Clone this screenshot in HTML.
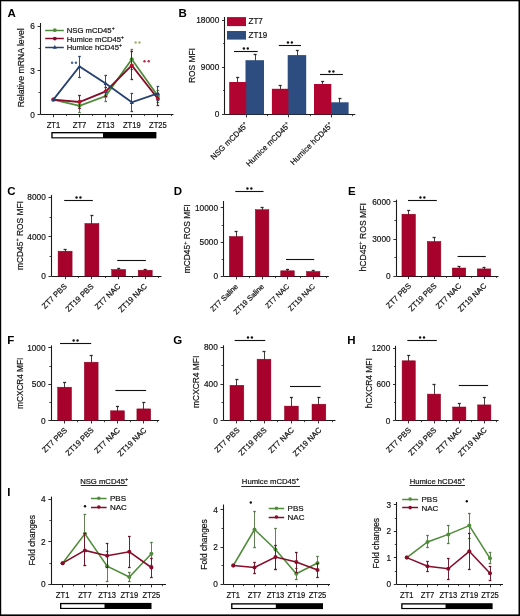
<!DOCTYPE html>
<html><head><meta charset="utf-8"><style>
html,body{margin:0;padding:0;background:#fff;}
body{width:520px;height:616px;overflow:hidden;}
svg{display:block;will-change:transform;}
#w{width:520px;height:616px;}
text{font-family:"Liberation Sans", sans-serif;}
</style></head><body><div id="w">
<svg width="520" height="616" viewBox="0 0 520 616" font-family='"Liberation Sans", sans-serif'><rect x="0" y="0" width="520" height="616" fill="#fff"/><text x="7.6" y="17.3" font-size="11.5" text-anchor="start" font-weight="bold" fill="#000">A</text><text x="178.6" y="16.9" font-size="11.5" text-anchor="start" font-weight="bold" fill="#000">B</text><text x="7.3" y="194.5" font-size="11.5" text-anchor="start" font-weight="bold" fill="#000">C</text><text x="173.8" y="194.5" font-size="11.5" text-anchor="start" font-weight="bold" fill="#000">D</text><text x="348" y="194.5" font-size="11.5" text-anchor="start" font-weight="bold" fill="#000">E</text><text x="7.3" y="344.3" font-size="11.5" text-anchor="start" font-weight="bold" fill="#000">F</text><text x="173.3" y="344.3" font-size="11.5" text-anchor="start" font-weight="bold" fill="#000">G</text><text x="347.3" y="344.3" font-size="11.5" text-anchor="start" font-weight="bold" fill="#000">H</text><text x="7.3" y="496.2" font-size="11.5" text-anchor="start" font-weight="bold" fill="#000">I</text><line x1="40.5" y1="23.0" x2="40.5" y2="114.3" stroke="#1a1a1a" stroke-width="1.1"/><line x1="37.5" y1="26.5" x2="40.3" y2="26.5" stroke="#1a1a1a" stroke-width="0.9"/><text x="0" y="0" font-size="9.96" text-anchor="end" fill="#111" stroke="#111" stroke-width="0.2" transform="translate(34.8 29.4) scale(0.8333 1)">6</text><line x1="37.5" y1="70.5" x2="40.3" y2="70.5" stroke="#1a1a1a" stroke-width="0.9"/><text x="0" y="0" font-size="9.96" text-anchor="end" fill="#111" stroke="#111" stroke-width="0.2" transform="translate(34.8 73.60000000000001) scale(0.8333 1)">3</text><line x1="37.5" y1="114.5" x2="40.3" y2="114.5" stroke="#1a1a1a" stroke-width="0.9"/><text x="0" y="0" font-size="9.96" text-anchor="end" fill="#111" stroke="#111" stroke-width="0.2" transform="translate(34.8 117.80000000000001) scale(0.8333 1)">0</text><line x1="38.5" y1="48.5" x2="40.3" y2="48.5" stroke="#1a1a1a" stroke-width="0.8"/><line x1="38.5" y1="92.5" x2="40.3" y2="92.5" stroke="#1a1a1a" stroke-width="0.8"/><line x1="40.3" y1="114.5" x2="173.5" y2="114.5" stroke="#1a1a1a" stroke-width="1.1"/><line x1="53.5" y1="114.3" x2="53.5" y2="117.3" stroke="#1a1a1a" stroke-width="0.9"/><line x1="79.5" y1="114.3" x2="79.5" y2="117.3" stroke="#1a1a1a" stroke-width="0.9"/><line x1="105.5" y1="114.3" x2="105.5" y2="117.3" stroke="#1a1a1a" stroke-width="0.9"/><line x1="131.5" y1="114.3" x2="131.5" y2="117.3" stroke="#1a1a1a" stroke-width="0.9"/><line x1="157.5" y1="114.3" x2="157.5" y2="117.3" stroke="#1a1a1a" stroke-width="0.9"/><line x1="66.5" y1="114.3" x2="66.5" y2="116.1" stroke="#1a1a1a" stroke-width="0.8"/><line x1="92.5" y1="114.3" x2="92.5" y2="116.1" stroke="#1a1a1a" stroke-width="0.8"/><line x1="118.5" y1="114.3" x2="118.5" y2="116.1" stroke="#1a1a1a" stroke-width="0.8"/><line x1="144.5" y1="114.3" x2="144.5" y2="116.1" stroke="#1a1a1a" stroke-width="0.8"/><line x1="171.5" y1="114.3" x2="171.5" y2="116.1" stroke="#1a1a1a" stroke-width="0.8"/><text x="0" y="0" font-size="9.12" text-anchor="middle" fill="#111" stroke="#111" stroke-width="0.2" transform="translate(53.4 127.9) scale(0.8333 1)">ZT1</text><text x="0" y="0" font-size="9.12" text-anchor="middle" fill="#111" stroke="#111" stroke-width="0.2" transform="translate(79.5 127.9) scale(0.8333 1)">ZT7</text><text x="0" y="0" font-size="9.12" text-anchor="middle" fill="#111" stroke="#111" stroke-width="0.2" transform="translate(105.7 127.9) scale(0.8333 1)">ZT13</text><text x="0" y="0" font-size="9.12" text-anchor="middle" fill="#111" stroke="#111" stroke-width="0.2" transform="translate(131.8 127.9) scale(0.8333 1)">ZT19</text><text x="0" y="0" font-size="9.12" text-anchor="middle" fill="#111" stroke="#111" stroke-width="0.2" transform="translate(157.9 127.9) scale(0.8333 1)">ZT25</text><rect x="51.30" y="132.00" width="105.10" height="6.40" fill="#000"/><rect x="52.65" y="133.35" width="50.35" height="3.90" fill="#fff"/><text x="0" y="0" font-size="9.57" text-anchor="middle" fill="#111" stroke="#111" stroke-width="0.2" transform="translate(24.3 67.8) rotate(-90) scale(0.9091 1)">Relative mRNA level</text><line x1="79.5" y1="100" x2="79.5" y2="112" stroke="#5a7a4c" stroke-width="0.95"/><line x1="78.2" y1="100.5" x2="80.8" y2="100.5" stroke="#5a7a4c" stroke-width="1.3"/><line x1="78.2" y1="112.5" x2="80.8" y2="112.5" stroke="#5a7a4c" stroke-width="1.3"/><line x1="105.5" y1="91" x2="105.5" y2="101" stroke="#5a7a4c" stroke-width="0.95"/><line x1="104.4" y1="91.5" x2="107.0" y2="91.5" stroke="#5a7a4c" stroke-width="1.3"/><line x1="104.4" y1="101.5" x2="107.0" y2="101.5" stroke="#5a7a4c" stroke-width="1.3"/><line x1="131.5" y1="49.2" x2="131.5" y2="69" stroke="#5a7a4c" stroke-width="0.95"/><line x1="130.5" y1="49.5" x2="133.10000000000002" y2="49.5" stroke="#5a7a4c" stroke-width="1.3"/><line x1="130.5" y1="69.5" x2="133.10000000000002" y2="69.5" stroke="#5a7a4c" stroke-width="1.3"/><line x1="157.5" y1="90" x2="157.5" y2="102" stroke="#5a7a4c" stroke-width="0.95"/><line x1="156.6" y1="90.5" x2="159.20000000000002" y2="90.5" stroke="#5a7a4c" stroke-width="1.3"/><line x1="156.6" y1="102.5" x2="159.20000000000002" y2="102.5" stroke="#5a7a4c" stroke-width="1.3"/><polyline points="53.4,99.6 79.5,105.8 105.7,96.0 131.8,59.2 157.9,96.0" fill="none" stroke="#4F8C3A" stroke-width="1.8" stroke-linejoin="miter"/><circle cx="53.4" cy="99.6" r="2.0" fill="#4F8C3A"/><circle cx="79.5" cy="105.8" r="2.0" fill="#4F8C3A"/><circle cx="105.7" cy="96.0" r="2.0" fill="#4F8C3A"/><circle cx="131.8" cy="59.2" r="2.0" fill="#4F8C3A"/><circle cx="157.9" cy="96.0" r="2.0" fill="#4F8C3A"/><line x1="79.5" y1="95.3" x2="79.5" y2="108.8" stroke="#6a1428" stroke-width="0.95"/><line x1="78.2" y1="95.5" x2="80.8" y2="95.5" stroke="#6a1428" stroke-width="1.3"/><line x1="78.2" y1="108.5" x2="80.8" y2="108.5" stroke="#6a1428" stroke-width="1.3"/><line x1="105.5" y1="87" x2="105.5" y2="96" stroke="#6a1428" stroke-width="0.95"/><line x1="104.4" y1="87.5" x2="107.0" y2="87.5" stroke="#6a1428" stroke-width="1.3"/><line x1="104.4" y1="96.5" x2="107.0" y2="96.5" stroke="#6a1428" stroke-width="1.3"/><line x1="131.5" y1="51.5" x2="131.5" y2="79.2" stroke="#6a1428" stroke-width="0.95"/><line x1="130.5" y1="51.5" x2="133.10000000000002" y2="51.5" stroke="#6a1428" stroke-width="1.3"/><line x1="130.5" y1="79.5" x2="133.10000000000002" y2="79.5" stroke="#6a1428" stroke-width="1.3"/><line x1="157.5" y1="93" x2="157.5" y2="105" stroke="#6a1428" stroke-width="0.95"/><line x1="156.6" y1="93.5" x2="159.20000000000002" y2="93.5" stroke="#6a1428" stroke-width="1.3"/><line x1="156.6" y1="105.5" x2="159.20000000000002" y2="105.5" stroke="#6a1428" stroke-width="1.3"/><polyline points="53.4,99.6 79.5,102.0 105.7,91.4 131.8,65.4 157.9,98.8" fill="none" stroke="#860C29" stroke-width="1.8" stroke-linejoin="miter"/><circle cx="53.4" cy="99.6" r="2.0" fill="#B80E2C"/><circle cx="79.5" cy="102.0" r="2.0" fill="#B80E2C"/><circle cx="105.7" cy="91.4" r="2.0" fill="#B80E2C"/><circle cx="131.8" cy="65.4" r="2.0" fill="#B80E2C"/><circle cx="157.9" cy="98.8" r="2.0" fill="#B80E2C"/><line x1="79.5" y1="56.8" x2="79.5" y2="77" stroke="#2f4670" stroke-width="0.95"/><line x1="78.2" y1="56.5" x2="80.8" y2="56.5" stroke="#2f4670" stroke-width="1.3"/><line x1="78.2" y1="77.5" x2="80.8" y2="77.5" stroke="#2f4670" stroke-width="1.3"/><line x1="105.5" y1="75.1" x2="105.5" y2="92" stroke="#2f4670" stroke-width="0.95"/><line x1="104.4" y1="75.5" x2="107.0" y2="75.5" stroke="#2f4670" stroke-width="1.3"/><line x1="104.4" y1="92.5" x2="107.0" y2="92.5" stroke="#2f4670" stroke-width="1.3"/><line x1="131.5" y1="93" x2="131.5" y2="111.5" stroke="#2f4670" stroke-width="0.95"/><line x1="130.5" y1="93.5" x2="133.10000000000002" y2="93.5" stroke="#2f4670" stroke-width="1.3"/><line x1="130.5" y1="111.5" x2="133.10000000000002" y2="111.5" stroke="#2f4670" stroke-width="1.3"/><line x1="157.5" y1="86.6" x2="157.5" y2="100" stroke="#2f4670" stroke-width="0.95"/><line x1="156.6" y1="86.5" x2="159.20000000000002" y2="86.5" stroke="#2f4670" stroke-width="1.3"/><line x1="156.6" y1="100.5" x2="159.20000000000002" y2="100.5" stroke="#2f4670" stroke-width="1.3"/><polyline points="53.4,99.6 79.5,66.5 105.7,83.4 131.8,102.3 157.9,93.4" fill="none" stroke="#26406F" stroke-width="1.8" stroke-linejoin="miter"/><path d="M51.3,101.19999999999999 L55.5,101.19999999999999 L53.4,97.6 Z" fill="#26406F"/><path d="M77.4,68.1 L81.6,68.1 L79.5,64.5 Z" fill="#26406F"/><path d="M103.60000000000001,85.0 L107.8,85.0 L105.7,81.4 Z" fill="#26406F"/><path d="M129.70000000000002,103.89999999999999 L133.9,103.89999999999999 L131.8,100.3 Z" fill="#26406F"/><path d="M155.8,95.0 L160.0,95.0 L157.9,91.4 Z" fill="#26406F"/><line x1="45.2" y1="30.5" x2="63.8" y2="30.5" stroke="#4F8C3A" stroke-width="1.5"/><circle cx="54.8" cy="30.2" r="1.9" fill="#4F8C3A"/><text x="66.8" y="33.1" font-size="7.7" text-anchor="start" fill="#111" stroke="#111" stroke-width="0.2">NSG mCD45<tspan font-size="5" dy="-3">+</tspan></text><line x1="45.2" y1="38.5" x2="63.8" y2="38.5" stroke="#860C29" stroke-width="1.5"/><circle cx="54.8" cy="38.6" r="1.9" fill="#860C29"/><text x="66.8" y="41.5" font-size="7.7" text-anchor="start" fill="#111" stroke="#111" stroke-width="0.2">Humice mCD45<tspan font-size="5" dy="-3">+</tspan></text><line x1="45.2" y1="47.5" x2="63.8" y2="47.5" stroke="#26406F" stroke-width="1.5"/><path d="M52.7,48.7 L56.9,48.7 L54.8,45.1 Z" fill="#26406F"/><text x="66.8" y="50.0" font-size="7.7" text-anchor="start" fill="#111" stroke="#111" stroke-width="0.2">Humice hCD45<tspan font-size="5" dy="-3">+</tspan></text><circle cx="72.10" cy="62.80" r="1.2" fill="#45609a"/><circle cx="75.90" cy="62.80" r="1.2" fill="#45609a"/><circle cx="135.65" cy="42.50" r="1.2" fill="#a8b078"/><circle cx="139.45" cy="42.50" r="1.2" fill="#a8b078"/><circle cx="144.50" cy="61.20" r="1.2" fill="#b02a44"/><circle cx="148.70" cy="61.20" r="1.2" fill="#b02a44"/><line x1="224.5" y1="17.0" x2="224.5" y2="114.4" stroke="#1a1a1a" stroke-width="1.1"/><line x1="222.0" y1="20.5" x2="224.8" y2="20.5" stroke="#1a1a1a" stroke-width="0.9"/><text x="0" y="0" font-size="9.96" text-anchor="end" fill="#111" stroke="#111" stroke-width="0.2" transform="translate(219.3 23.099999999999998) scale(0.8333 1)">18000</text><line x1="222.0" y1="67.5" x2="224.8" y2="67.5" stroke="#1a1a1a" stroke-width="0.9"/><text x="0" y="0" font-size="9.96" text-anchor="end" fill="#111" stroke="#111" stroke-width="0.2" transform="translate(219.3 70.2) scale(0.8333 1)">9000</text><line x1="222.0" y1="114.5" x2="224.8" y2="114.5" stroke="#1a1a1a" stroke-width="0.9"/><text x="0" y="0" font-size="9.96" text-anchor="end" fill="#111" stroke="#111" stroke-width="0.2" transform="translate(219.3 117.30000000000001) scale(0.8333 1)">0</text><line x1="223.0" y1="43.5" x2="224.8" y2="43.5" stroke="#1a1a1a" stroke-width="0.8"/><line x1="223.0" y1="90.5" x2="224.8" y2="90.5" stroke="#1a1a1a" stroke-width="0.8"/><line x1="224.8" y1="114.5" x2="355.3" y2="114.5" stroke="#1a1a1a" stroke-width="1.1"/><line x1="246.5" y1="114.4" x2="246.5" y2="117.4" stroke="#1a1a1a" stroke-width="0.9"/><line x1="288.5" y1="114.4" x2="288.5" y2="117.4" stroke="#1a1a1a" stroke-width="0.9"/><line x1="331.5" y1="114.4" x2="331.5" y2="117.4" stroke="#1a1a1a" stroke-width="0.9"/><line x1="267.5" y1="114.4" x2="267.5" y2="116.2" stroke="#1a1a1a" stroke-width="0.8"/><line x1="310.5" y1="114.4" x2="310.5" y2="116.2" stroke="#1a1a1a" stroke-width="0.8"/><line x1="352.5" y1="114.4" x2="352.5" y2="116.2" stroke="#1a1a1a" stroke-width="0.8"/><line x1="237.5" y1="77.7" x2="237.5" y2="83.5" stroke="#2a2a2a" stroke-width="0.9"/><line x1="236.2" y1="77.5" x2="239.2" y2="77.5" stroke="#2a2a2a" stroke-width="1.3"/><line x1="255.5" y1="54.7" x2="255.5" y2="61.7" stroke="#2a2a2a" stroke-width="0.9"/><line x1="253.6" y1="54.5" x2="256.6" y2="54.5" stroke="#2a2a2a" stroke-width="1.3"/><rect x="245.50" y="60.20" width="18.50" height="54.20" fill="#2D4C80"/><rect x="229.20" y="82.00" width="17.00" height="32.40" fill="#B20430"/><line x1="280.5" y1="85.7" x2="280.5" y2="90.3" stroke="#2a2a2a" stroke-width="0.9"/><line x1="278.65" y1="85.5" x2="281.65" y2="85.5" stroke="#2a2a2a" stroke-width="1.3"/><line x1="297.5" y1="50.2" x2="297.5" y2="56.6" stroke="#2a2a2a" stroke-width="0.9"/><line x1="295.79999999999995" y1="50.5" x2="298.79999999999995" y2="50.5" stroke="#2a2a2a" stroke-width="1.3"/><rect x="287.70" y="55.10" width="18.50" height="59.30" fill="#2D4C80"/><rect x="271.90" y="88.80" width="16.50" height="25.60" fill="#B20430"/><line x1="322.5" y1="81.4" x2="322.5" y2="85.5" stroke="#2a2a2a" stroke-width="0.9"/><line x1="321.15" y1="81.5" x2="324.15" y2="81.5" stroke="#2a2a2a" stroke-width="1.3"/><line x1="339.5" y1="98.3" x2="339.5" y2="103.8" stroke="#2a2a2a" stroke-width="0.9"/><line x1="338.45000000000005" y1="98.5" x2="341.45000000000005" y2="98.5" stroke="#2a2a2a" stroke-width="1.3"/><rect x="330.60" y="102.30" width="18.00" height="12.10" fill="#2D4C80"/><rect x="314.00" y="84.00" width="17.30" height="30.40" fill="#B20430"/><line x1="234" y1="51.5" x2="257.7" y2="51.5" stroke="#111" stroke-width="1.1"/><circle cx="243.90" cy="48.50" r="1.2" fill="#111"/><circle cx="247.80" cy="48.50" r="1.2" fill="#111"/><line x1="278.8" y1="45.5" x2="301" y2="45.5" stroke="#111" stroke-width="1.1"/><circle cx="287.95" cy="42.50" r="1.2" fill="#111"/><circle cx="291.85" cy="42.50" r="1.2" fill="#111"/><line x1="320" y1="74.5" x2="342.9" y2="74.5" stroke="#111" stroke-width="1.1"/><circle cx="329.50" cy="71.50" r="1.2" fill="#111"/><circle cx="333.40" cy="71.50" r="1.2" fill="#111"/><rect x="227.00" y="17.10" width="19.00" height="9.00" fill="#B20430"/><rect x="227.00" y="31.00" width="19.00" height="8.60" fill="#2D4C80"/><text x="0" y="0" font-size="9.2" text-anchor="start" fill="#111" stroke="#111" stroke-width="0.2" transform="translate(248.5 24.2) scale(0.8696 1)">ZT7</text><text x="0" y="0" font-size="9.2" text-anchor="start" fill="#111" stroke="#111" stroke-width="0.2" transform="translate(248.5 38.1) scale(0.8696 1)">ZT19</text><text x="195.0" y="65.5" font-size="8.4" text-anchor="middle" fill="#111" stroke="#111" stroke-width="0.2" transform="rotate(-90 195.0 65.5)">ROS MFI</text><text x="248.5" y="125.60000000000001" font-size="7.9" text-anchor="end" fill="#111" stroke="#111" stroke-width="0.2" transform="rotate(-45 248.5 125.60000000000001)">NSG mCD45<tspan font-size="5" dy="-3">+</tspan></text><text x="290.7" y="125.60000000000001" font-size="7.9" text-anchor="end" fill="#111" stroke="#111" stroke-width="0.2" transform="rotate(-45 290.7 125.60000000000001)">Humice mCD45<tspan font-size="5" dy="-3">+</tspan></text><text x="333.3" y="125.60000000000001" font-size="7.9" text-anchor="end" fill="#111" stroke="#111" stroke-width="0.2" transform="rotate(-45 333.3 125.60000000000001)">Humice hCD45<tspan font-size="5" dy="-3">+</tspan></text><line x1="51.5" y1="194.9" x2="51.5" y2="276.2" stroke="#1a1a1a" stroke-width="1.1"/><line x1="48.5" y1="197.5" x2="51.3" y2="197.5" stroke="#1a1a1a" stroke-width="0.9"/><text x="0" y="0" font-size="9.96" text-anchor="end" fill="#111" stroke="#111" stroke-width="0.2" transform="translate(45.8 200.4) scale(0.8333 1)">8000</text><line x1="48.5" y1="236.5" x2="51.3" y2="236.5" stroke="#1a1a1a" stroke-width="0.9"/><text x="0" y="0" font-size="9.96" text-anchor="end" fill="#111" stroke="#111" stroke-width="0.2" transform="translate(45.8 239.70000000000002) scale(0.8333 1)">4000</text><line x1="48.5" y1="276.5" x2="51.3" y2="276.5" stroke="#1a1a1a" stroke-width="0.9"/><text x="0" y="0" font-size="9.96" text-anchor="end" fill="#111" stroke="#111" stroke-width="0.2" transform="translate(45.8 279.09999999999997) scale(0.8333 1)">0</text><line x1="49.5" y1="217.5" x2="51.3" y2="217.5" stroke="#1a1a1a" stroke-width="0.8"/><line x1="49.5" y1="256.5" x2="51.3" y2="256.5" stroke="#1a1a1a" stroke-width="0.8"/><line x1="51.3" y1="276.5" x2="161.5" y2="276.5" stroke="#1a1a1a" stroke-width="1.1"/><line x1="65.5" y1="276.2" x2="65.5" y2="279.2" stroke="#1a1a1a" stroke-width="0.9"/><line x1="91.5" y1="276.2" x2="91.5" y2="279.2" stroke="#1a1a1a" stroke-width="0.9"/><line x1="118.5" y1="276.2" x2="118.5" y2="279.2" stroke="#1a1a1a" stroke-width="0.9"/><line x1="145.5" y1="276.2" x2="145.5" y2="279.2" stroke="#1a1a1a" stroke-width="0.9"/><line x1="78.5" y1="276.2" x2="78.5" y2="278.0" stroke="#1a1a1a" stroke-width="0.8"/><line x1="105.5" y1="276.2" x2="105.5" y2="278.0" stroke="#1a1a1a" stroke-width="0.8"/><line x1="132.5" y1="276.2" x2="132.5" y2="278.0" stroke="#1a1a1a" stroke-width="0.8"/><line x1="158.5" y1="276.2" x2="158.5" y2="278.0" stroke="#1a1a1a" stroke-width="0.8"/><line x1="65.5" y1="249.0" x2="65.5" y2="253.2" stroke="#2a2a2a" stroke-width="0.9"/><line x1="63.599999999999994" y1="249.5" x2="66.6" y2="249.5" stroke="#2a2a2a" stroke-width="1.3"/><rect x="58.10" y="251.20" width="14.00" height="25.00" fill="#A6022B" stroke="#8A0020" stroke-width="0.5"/><line x1="91.5" y1="215.5" x2="91.5" y2="225.5" stroke="#2a2a2a" stroke-width="0.9"/><line x1="90.4" y1="215.5" x2="93.4" y2="215.5" stroke="#2a2a2a" stroke-width="1.3"/><rect x="84.90" y="223.50" width="14.00" height="52.70" fill="#A6022B" stroke="#8A0020" stroke-width="0.5"/><line x1="118.5" y1="268.7" x2="118.5" y2="270.0" stroke="#2a2a2a" stroke-width="0.9"/><line x1="117.2" y1="268.5" x2="120.2" y2="268.5" stroke="#2a2a2a" stroke-width="1.3"/><rect x="111.70" y="269.50" width="14.00" height="6.70" fill="#A6022B" stroke="#8A0020" stroke-width="0.5"/><line x1="145.5" y1="269.4" x2="145.5" y2="270.7" stroke="#2a2a2a" stroke-width="0.9"/><line x1="143.7" y1="269.5" x2="146.7" y2="269.5" stroke="#2a2a2a" stroke-width="1.3"/><rect x="138.20" y="270.20" width="14.00" height="6.00" fill="#A6022B" stroke="#8A0020" stroke-width="0.5"/><line x1="64.2" y1="200.5" x2="92.8" y2="200.5" stroke="#111" stroke-width="1.1"/><circle cx="76.55" cy="197.50" r="1.2" fill="#111"/><circle cx="80.45" cy="197.50" r="1.2" fill="#111"/><line x1="117.2" y1="260.5" x2="145.9" y2="260.5" stroke="#111" stroke-width="1.1"/><text x="67.39999999999999" y="286.8" font-size="7.8" text-anchor="end" fill="#111" stroke="#111" stroke-width="0.2" transform="rotate(-45 67.39999999999999 286.8)">ZT7 PBS</text><text x="94.2" y="286.8" font-size="7.8" text-anchor="end" fill="#111" stroke="#111" stroke-width="0.2" transform="rotate(-45 94.2 286.8)">ZT19 PBS</text><text x="121.0" y="286.8" font-size="7.8" text-anchor="end" fill="#111" stroke="#111" stroke-width="0.2" transform="rotate(-45 121.0 286.8)">ZT7 NAC</text><text x="147.5" y="286.8" font-size="7.8" text-anchor="end" fill="#111" stroke="#111" stroke-width="0.2" transform="rotate(-45 147.5 286.8)">ZT19 NAC</text><text x="0" y="0" font-size="9.24" text-anchor="middle" fill="#111" stroke="#111" stroke-width="0.2" transform="translate(22.6 235.6) rotate(-90) scale(0.9091 1)">mCD45<tspan font-size="6" dy="-3.2">+</tspan><tspan dy="3.2"> ROS MFI</tspan></text><line x1="223.5" y1="201.0" x2="223.5" y2="276.4" stroke="#1a1a1a" stroke-width="1.1"/><line x1="220.7" y1="207.5" x2="223.5" y2="207.5" stroke="#1a1a1a" stroke-width="0.9"/><text x="0" y="0" font-size="9.96" text-anchor="end" fill="#111" stroke="#111" stroke-width="0.2" transform="translate(218.0 210.8) scale(0.8333 1)">10000</text><line x1="220.7" y1="242.5" x2="223.5" y2="242.5" stroke="#1a1a1a" stroke-width="0.9"/><text x="0" y="0" font-size="9.96" text-anchor="end" fill="#111" stroke="#111" stroke-width="0.2" transform="translate(218.0 244.9) scale(0.8333 1)">5000</text><line x1="220.7" y1="276.5" x2="223.5" y2="276.5" stroke="#1a1a1a" stroke-width="0.9"/><text x="0" y="0" font-size="9.96" text-anchor="end" fill="#111" stroke="#111" stroke-width="0.2" transform="translate(218.0 279.09999999999997) scale(0.8333 1)">0</text><line x1="221.7" y1="225.5" x2="223.5" y2="225.5" stroke="#1a1a1a" stroke-width="0.8"/><line x1="221.7" y1="259.5" x2="223.5" y2="259.5" stroke="#1a1a1a" stroke-width="0.8"/><line x1="223.5" y1="276.5" x2="328.8" y2="276.5" stroke="#1a1a1a" stroke-width="1.1"/><line x1="236.5" y1="276.4" x2="236.5" y2="279.4" stroke="#1a1a1a" stroke-width="0.9"/><line x1="262.5" y1="276.4" x2="262.5" y2="279.4" stroke="#1a1a1a" stroke-width="0.9"/><line x1="287.5" y1="276.4" x2="287.5" y2="279.4" stroke="#1a1a1a" stroke-width="0.9"/><line x1="313.5" y1="276.4" x2="313.5" y2="279.4" stroke="#1a1a1a" stroke-width="0.9"/><line x1="249.5" y1="276.4" x2="249.5" y2="278.2" stroke="#1a1a1a" stroke-width="0.8"/><line x1="275.5" y1="276.4" x2="275.5" y2="278.2" stroke="#1a1a1a" stroke-width="0.8"/><line x1="300.5" y1="276.4" x2="300.5" y2="278.2" stroke="#1a1a1a" stroke-width="0.8"/><line x1="326.5" y1="276.4" x2="326.5" y2="278.2" stroke="#1a1a1a" stroke-width="0.8"/><line x1="236.5" y1="231.2" x2="236.5" y2="238.5" stroke="#2a2a2a" stroke-width="0.9"/><line x1="234.6" y1="231.5" x2="237.6" y2="231.5" stroke="#2a2a2a" stroke-width="1.3"/><rect x="229.35" y="236.50" width="13.50" height="39.90" fill="#A6022B" stroke="#8A0020" stroke-width="0.5"/><line x1="262.5" y1="207.4" x2="262.5" y2="211.7" stroke="#2a2a2a" stroke-width="0.9"/><line x1="260.6" y1="207.5" x2="263.6" y2="207.5" stroke="#2a2a2a" stroke-width="1.3"/><rect x="255.35" y="209.70" width="13.50" height="66.70" fill="#A6022B" stroke="#8A0020" stroke-width="0.5"/><line x1="287.5" y1="269.8" x2="287.5" y2="271.3" stroke="#2a2a2a" stroke-width="0.9"/><line x1="286.0" y1="269.5" x2="289.0" y2="269.5" stroke="#2a2a2a" stroke-width="1.3"/><rect x="280.75" y="270.80" width="13.50" height="5.60" fill="#A6022B" stroke="#8A0020" stroke-width="0.5"/><line x1="313.5" y1="270.5" x2="313.5" y2="272.0" stroke="#2a2a2a" stroke-width="0.9"/><line x1="311.7" y1="270.5" x2="314.7" y2="270.5" stroke="#2a2a2a" stroke-width="1.3"/><rect x="306.45" y="271.50" width="13.50" height="4.90" fill="#A6022B" stroke="#8A0020" stroke-width="0.5"/><line x1="235.3" y1="191.5" x2="263.5" y2="191.5" stroke="#111" stroke-width="1.1"/><circle cx="247.45" cy="188.50" r="1.2" fill="#111"/><circle cx="251.35" cy="188.50" r="1.2" fill="#111"/><line x1="286" y1="259.5" x2="314.2" y2="259.5" stroke="#111" stroke-width="1.1"/><text x="238.4" y="287.0" font-size="7.35" text-anchor="end" fill="#111" stroke="#111" stroke-width="0.2" transform="rotate(-45 238.4 287.0)">ZT7 Saline</text><text x="264.40000000000003" y="287.0" font-size="7.35" text-anchor="end" fill="#111" stroke="#111" stroke-width="0.2" transform="rotate(-45 264.40000000000003 287.0)">ZT19 Saline</text><text x="289.8" y="287.0" font-size="7.35" text-anchor="end" fill="#111" stroke="#111" stroke-width="0.2" transform="rotate(-45 289.8 287.0)">ZT7 NAC</text><text x="315.5" y="287.0" font-size="7.35" text-anchor="end" fill="#111" stroke="#111" stroke-width="0.2" transform="rotate(-45 315.5 287.0)">ZT19 NAC</text><text x="0" y="0" font-size="9.24" text-anchor="middle" fill="#111" stroke="#111" stroke-width="0.2" transform="translate(190.2 238.8) rotate(-90) scale(0.9091 1)">mCD45<tspan font-size="6" dy="-3.2">+</tspan><tspan dy="3.2"> ROS MFI</tspan></text><line x1="396.5" y1="199.7" x2="396.5" y2="276.1" stroke="#1a1a1a" stroke-width="1.1"/><line x1="393.4" y1="201.5" x2="396.2" y2="201.5" stroke="#1a1a1a" stroke-width="0.9"/><text x="0" y="0" font-size="9.96" text-anchor="end" fill="#111" stroke="#111" stroke-width="0.2" transform="translate(390.7 204.70000000000002) scale(0.8333 1)">6000</text><line x1="393.4" y1="239.5" x2="396.2" y2="239.5" stroke="#1a1a1a" stroke-width="0.9"/><text x="0" y="0" font-size="9.96" text-anchor="end" fill="#111" stroke="#111" stroke-width="0.2" transform="translate(390.7 241.9) scale(0.8333 1)">3000</text><line x1="393.4" y1="276.5" x2="396.2" y2="276.5" stroke="#1a1a1a" stroke-width="0.9"/><text x="0" y="0" font-size="9.96" text-anchor="end" fill="#111" stroke="#111" stroke-width="0.2" transform="translate(390.7 279.09999999999997) scale(0.8333 1)">0</text><line x1="394.4" y1="220.5" x2="396.2" y2="220.5" stroke="#1a1a1a" stroke-width="0.8"/><line x1="394.4" y1="257.5" x2="396.2" y2="257.5" stroke="#1a1a1a" stroke-width="0.8"/><line x1="396.2" y1="276.5" x2="498.5" y2="276.5" stroke="#1a1a1a" stroke-width="1.1"/><line x1="408.5" y1="276.1" x2="408.5" y2="279.1" stroke="#1a1a1a" stroke-width="0.9"/><line x1="434.5" y1="276.1" x2="434.5" y2="279.1" stroke="#1a1a1a" stroke-width="0.9"/><line x1="459.5" y1="276.1" x2="459.5" y2="279.1" stroke="#1a1a1a" stroke-width="0.9"/><line x1="484.5" y1="276.1" x2="484.5" y2="279.1" stroke="#1a1a1a" stroke-width="0.9"/><line x1="421.5" y1="276.1" x2="421.5" y2="277.90000000000003" stroke="#1a1a1a" stroke-width="0.8"/><line x1="446.5" y1="276.1" x2="446.5" y2="277.90000000000003" stroke="#1a1a1a" stroke-width="0.8"/><line x1="471.5" y1="276.1" x2="471.5" y2="277.90000000000003" stroke="#1a1a1a" stroke-width="0.8"/><line x1="496.5" y1="276.1" x2="496.5" y2="277.90000000000003" stroke="#1a1a1a" stroke-width="0.8"/><line x1="408.5" y1="210.3" x2="408.5" y2="216.2" stroke="#2a2a2a" stroke-width="0.9"/><line x1="407.2" y1="210.5" x2="410.2" y2="210.5" stroke="#2a2a2a" stroke-width="1.3"/><rect x="401.95" y="214.20" width="13.50" height="61.90" fill="#A6022B" stroke="#8A0020" stroke-width="0.5"/><line x1="434.5" y1="237.1" x2="434.5" y2="243.5" stroke="#2a2a2a" stroke-width="0.9"/><line x1="432.6" y1="237.5" x2="435.6" y2="237.5" stroke="#2a2a2a" stroke-width="1.3"/><rect x="427.35" y="241.50" width="13.50" height="34.60" fill="#A6022B" stroke="#8A0020" stroke-width="0.5"/><line x1="459.5" y1="266.8" x2="459.5" y2="270.0" stroke="#2a2a2a" stroke-width="0.9"/><line x1="457.5" y1="266.5" x2="460.5" y2="266.5" stroke="#2a2a2a" stroke-width="1.3"/><rect x="452.25" y="268.00" width="13.50" height="8.10" fill="#A6022B" stroke="#8A0020" stroke-width="0.5"/><line x1="484.5" y1="267.8" x2="484.5" y2="270.9" stroke="#2a2a2a" stroke-width="0.9"/><line x1="482.5" y1="267.5" x2="485.5" y2="267.5" stroke="#2a2a2a" stroke-width="1.3"/><rect x="477.25" y="268.90" width="13.50" height="7.20" fill="#A6022B" stroke="#8A0020" stroke-width="0.5"/><line x1="408" y1="200.5" x2="436.8" y2="200.5" stroke="#111" stroke-width="1.1"/><circle cx="420.45" cy="197.50" r="1.2" fill="#111"/><circle cx="424.35" cy="197.50" r="1.2" fill="#111"/><line x1="457.6" y1="256.5" x2="485.8" y2="256.5" stroke="#111" stroke-width="1.1"/><text x="411.7" y="286.3" font-size="7.8" text-anchor="end" fill="#111" stroke="#111" stroke-width="0.2" transform="rotate(-45 411.7 286.3)">ZT7 PBS</text><text x="437.1" y="286.3" font-size="7.8" text-anchor="end" fill="#111" stroke="#111" stroke-width="0.2" transform="rotate(-45 437.1 286.3)">ZT19 PBS</text><text x="462.0" y="286.3" font-size="7.8" text-anchor="end" fill="#111" stroke="#111" stroke-width="0.2" transform="rotate(-45 462.0 286.3)">ZT7 NAC</text><text x="487.0" y="286.3" font-size="7.8" text-anchor="end" fill="#111" stroke="#111" stroke-width="0.2" transform="rotate(-45 487.0 286.3)">ZT19 NAC</text><text x="0" y="0" font-size="9.52" text-anchor="middle" fill="#111" stroke="#111" stroke-width="0.2" transform="translate(365.6 237.3) rotate(-90) scale(0.9091 1)">hCD45<tspan font-size="6" dy="-3.2">+</tspan><tspan dy="3.2"> ROS MFI</tspan></text><line x1="51.5" y1="345.4" x2="51.5" y2="420.5" stroke="#1a1a1a" stroke-width="1.1"/><line x1="48.300000000000004" y1="347.5" x2="51.1" y2="347.5" stroke="#1a1a1a" stroke-width="0.9"/><text x="0" y="0" font-size="9.96" text-anchor="end" fill="#111" stroke="#111" stroke-width="0.2" transform="translate(45.6 350.7) scale(0.8333 1)">1000</text><line x1="48.300000000000004" y1="384.5" x2="51.1" y2="384.5" stroke="#1a1a1a" stroke-width="0.9"/><text x="0" y="0" font-size="9.96" text-anchor="end" fill="#111" stroke="#111" stroke-width="0.2" transform="translate(45.6 387.2) scale(0.8333 1)">500</text><line x1="48.300000000000004" y1="420.5" x2="51.1" y2="420.5" stroke="#1a1a1a" stroke-width="0.9"/><text x="0" y="0" font-size="9.96" text-anchor="end" fill="#111" stroke="#111" stroke-width="0.2" transform="translate(45.6 423.7) scale(0.8333 1)">0</text><line x1="49.300000000000004" y1="366.5" x2="51.1" y2="366.5" stroke="#1a1a1a" stroke-width="0.8"/><line x1="49.300000000000004" y1="402.5" x2="51.1" y2="402.5" stroke="#1a1a1a" stroke-width="0.8"/><line x1="51.1" y1="420.5" x2="159.2" y2="420.5" stroke="#1a1a1a" stroke-width="1.1"/><line x1="64.5" y1="420.5" x2="64.5" y2="423.5" stroke="#1a1a1a" stroke-width="0.9"/><line x1="91.5" y1="420.5" x2="91.5" y2="423.5" stroke="#1a1a1a" stroke-width="0.9"/><line x1="117.5" y1="420.5" x2="117.5" y2="423.5" stroke="#1a1a1a" stroke-width="0.9"/><line x1="143.5" y1="420.5" x2="143.5" y2="423.5" stroke="#1a1a1a" stroke-width="0.9"/><line x1="77.5" y1="420.5" x2="77.5" y2="422.3" stroke="#1a1a1a" stroke-width="0.8"/><line x1="104.5" y1="420.5" x2="104.5" y2="422.3" stroke="#1a1a1a" stroke-width="0.8"/><line x1="130.5" y1="420.5" x2="130.5" y2="422.3" stroke="#1a1a1a" stroke-width="0.8"/><line x1="157.5" y1="420.5" x2="157.5" y2="422.3" stroke="#1a1a1a" stroke-width="0.8"/><line x1="64.5" y1="382.3" x2="64.5" y2="389.2" stroke="#2a2a2a" stroke-width="0.9"/><line x1="63.099999999999994" y1="382.5" x2="66.1" y2="382.5" stroke="#2a2a2a" stroke-width="1.3"/><rect x="57.70" y="387.20" width="13.80" height="33.30" fill="#A6022B" stroke="#8A0020" stroke-width="0.5"/><line x1="91.5" y1="355.3" x2="91.5" y2="364.2" stroke="#2a2a2a" stroke-width="0.9"/><line x1="89.7" y1="355.5" x2="92.7" y2="355.5" stroke="#2a2a2a" stroke-width="1.3"/><rect x="84.30" y="362.20" width="13.80" height="58.30" fill="#A6022B" stroke="#8A0020" stroke-width="0.5"/><line x1="117.5" y1="406.3" x2="117.5" y2="412.8" stroke="#2a2a2a" stroke-width="0.9"/><line x1="116.0" y1="406.5" x2="119.0" y2="406.5" stroke="#2a2a2a" stroke-width="1.3"/><rect x="110.60" y="410.80" width="13.80" height="9.70" fill="#A6022B" stroke="#8A0020" stroke-width="0.5"/><line x1="143.5" y1="402.5" x2="143.5" y2="410.9" stroke="#2a2a2a" stroke-width="0.9"/><line x1="142.3" y1="402.5" x2="145.3" y2="402.5" stroke="#2a2a2a" stroke-width="1.3"/><rect x="136.90" y="408.90" width="13.80" height="11.60" fill="#A6022B" stroke="#8A0020" stroke-width="0.5"/><line x1="60" y1="343.5" x2="91.2" y2="343.5" stroke="#111" stroke-width="1.1"/><circle cx="73.65" cy="340.50" r="1.2" fill="#111"/><circle cx="77.55" cy="340.50" r="1.2" fill="#111"/><line x1="115.4" y1="390.5" x2="146.1" y2="390.5" stroke="#111" stroke-width="1.1"/><text x="67.69999999999999" y="430.7" font-size="7.8" text-anchor="end" fill="#111" stroke="#111" stroke-width="0.2" transform="rotate(-45 67.69999999999999 430.7)">ZT7 PBS</text><text x="94.3" y="430.7" font-size="7.8" text-anchor="end" fill="#111" stroke="#111" stroke-width="0.2" transform="rotate(-45 94.3 430.7)">ZT19 PBS</text><text x="120.6" y="430.7" font-size="7.8" text-anchor="end" fill="#111" stroke="#111" stroke-width="0.2" transform="rotate(-45 120.6 430.7)">ZT7 NAC</text><text x="146.9" y="430.7" font-size="7.8" text-anchor="end" fill="#111" stroke="#111" stroke-width="0.2" transform="rotate(-45 146.9 430.7)">ZT19 NAC</text><text x="0" y="0" font-size="9.02" text-anchor="middle" fill="#111" stroke="#111" stroke-width="0.2" transform="translate(22.6 383.3) rotate(-90) scale(0.9091 1)">mCXCR4 MFI</text><line x1="223.5" y1="345.3" x2="223.5" y2="420.4" stroke="#1a1a1a" stroke-width="1.1"/><line x1="220.5" y1="347.5" x2="223.3" y2="347.5" stroke="#1a1a1a" stroke-width="0.9"/><text x="0" y="0" font-size="9.96" text-anchor="end" fill="#111" stroke="#111" stroke-width="0.2" transform="translate(217.8 349.9) scale(0.8333 1)">800</text><line x1="220.5" y1="384.5" x2="223.3" y2="384.5" stroke="#1a1a1a" stroke-width="0.9"/><text x="0" y="0" font-size="9.96" text-anchor="end" fill="#111" stroke="#111" stroke-width="0.2" transform="translate(217.8 386.9) scale(0.8333 1)">400</text><line x1="220.5" y1="420.5" x2="223.3" y2="420.5" stroke="#1a1a1a" stroke-width="0.9"/><text x="0" y="0" font-size="9.96" text-anchor="end" fill="#111" stroke="#111" stroke-width="0.2" transform="translate(217.8 423.7) scale(0.8333 1)">0</text><line x1="221.5" y1="365.5" x2="223.3" y2="365.5" stroke="#1a1a1a" stroke-width="0.8"/><line x1="221.5" y1="402.5" x2="223.3" y2="402.5" stroke="#1a1a1a" stroke-width="0.8"/><line x1="223.3" y1="420.5" x2="335.5" y2="420.5" stroke="#1a1a1a" stroke-width="1.1"/><line x1="236.5" y1="420.4" x2="236.5" y2="423.4" stroke="#1a1a1a" stroke-width="0.9"/><line x1="264.5" y1="420.4" x2="264.5" y2="423.4" stroke="#1a1a1a" stroke-width="0.9"/><line x1="291.5" y1="420.4" x2="291.5" y2="423.4" stroke="#1a1a1a" stroke-width="0.9"/><line x1="318.5" y1="420.4" x2="318.5" y2="423.4" stroke="#1a1a1a" stroke-width="0.9"/><line x1="250.5" y1="420.4" x2="250.5" y2="422.2" stroke="#1a1a1a" stroke-width="0.8"/><line x1="277.5" y1="420.4" x2="277.5" y2="422.2" stroke="#1a1a1a" stroke-width="0.8"/><line x1="304.5" y1="420.4" x2="304.5" y2="422.2" stroke="#1a1a1a" stroke-width="0.8"/><line x1="332.5" y1="420.4" x2="332.5" y2="422.2" stroke="#1a1a1a" stroke-width="0.8"/><line x1="236.5" y1="379.4" x2="236.5" y2="387.3" stroke="#2a2a2a" stroke-width="0.9"/><line x1="235.4" y1="379.5" x2="238.4" y2="379.5" stroke="#2a2a2a" stroke-width="1.3"/><rect x="230.00" y="385.30" width="13.80" height="35.10" fill="#A6022B" stroke="#8A0020" stroke-width="0.5"/><line x1="264.5" y1="351.6" x2="264.5" y2="361.2" stroke="#2a2a2a" stroke-width="0.9"/><line x1="262.5" y1="351.5" x2="265.5" y2="351.5" stroke="#2a2a2a" stroke-width="1.3"/><rect x="257.10" y="359.20" width="13.80" height="61.20" fill="#A6022B" stroke="#8A0020" stroke-width="0.5"/><line x1="291.5" y1="397.8" x2="291.5" y2="408.1" stroke="#2a2a2a" stroke-width="0.9"/><line x1="289.9" y1="397.5" x2="292.9" y2="397.5" stroke="#2a2a2a" stroke-width="1.3"/><rect x="284.50" y="406.10" width="13.80" height="14.30" fill="#A6022B" stroke="#8A0020" stroke-width="0.5"/><line x1="318.5" y1="397.3" x2="318.5" y2="406.2" stroke="#2a2a2a" stroke-width="0.9"/><line x1="317.4" y1="397.5" x2="320.4" y2="397.5" stroke="#2a2a2a" stroke-width="1.3"/><rect x="312.00" y="404.20" width="13.80" height="16.20" fill="#A6022B" stroke="#8A0020" stroke-width="0.5"/><line x1="234.6" y1="340.5" x2="265.3" y2="340.5" stroke="#111" stroke-width="1.1"/><circle cx="248.00" cy="337.50" r="1.2" fill="#111"/><circle cx="251.90" cy="337.50" r="1.2" fill="#111"/><line x1="290" y1="386.5" x2="320.7" y2="386.5" stroke="#111" stroke-width="1.1"/><text x="240.1" y="430.59999999999997" font-size="7.8" text-anchor="end" fill="#111" stroke="#111" stroke-width="0.2" transform="rotate(-45 240.1 430.59999999999997)">ZT7 PBS</text><text x="267.2" y="430.59999999999997" font-size="7.8" text-anchor="end" fill="#111" stroke="#111" stroke-width="0.2" transform="rotate(-45 267.2 430.59999999999997)">ZT19 PBS</text><text x="294.59999999999997" y="430.59999999999997" font-size="7.8" text-anchor="end" fill="#111" stroke="#111" stroke-width="0.2" transform="rotate(-45 294.59999999999997 430.59999999999997)">ZT7 NAC</text><text x="322.09999999999997" y="430.59999999999997" font-size="7.8" text-anchor="end" fill="#111" stroke="#111" stroke-width="0.2" transform="rotate(-45 322.09999999999997 430.59999999999997)">ZT19 NAC</text><text x="0" y="0" font-size="9.24" text-anchor="middle" fill="#111" stroke="#111" stroke-width="0.2" transform="translate(198.6 381.8) rotate(-90) scale(0.9091 1)">mCXCR4 MFI</text><line x1="395.5" y1="345.8" x2="395.5" y2="420.4" stroke="#1a1a1a" stroke-width="1.1"/><line x1="393.0" y1="348.5" x2="395.8" y2="348.5" stroke="#1a1a1a" stroke-width="0.9"/><text x="0" y="0" font-size="9.96" text-anchor="end" fill="#111" stroke="#111" stroke-width="0.2" transform="translate(390.3 351.09999999999997) scale(0.8333 1)">1200</text><line x1="393.0" y1="384.5" x2="395.8" y2="384.5" stroke="#1a1a1a" stroke-width="0.9"/><text x="0" y="0" font-size="9.96" text-anchor="end" fill="#111" stroke="#111" stroke-width="0.2" transform="translate(390.3 387.4) scale(0.8333 1)">600</text><line x1="393.0" y1="420.5" x2="395.8" y2="420.5" stroke="#1a1a1a" stroke-width="0.9"/><text x="0" y="0" font-size="9.96" text-anchor="end" fill="#111" stroke="#111" stroke-width="0.2" transform="translate(390.3 423.7) scale(0.8333 1)">0</text><line x1="394.0" y1="366.5" x2="395.8" y2="366.5" stroke="#1a1a1a" stroke-width="0.8"/><line x1="394.0" y1="402.5" x2="395.8" y2="402.5" stroke="#1a1a1a" stroke-width="0.8"/><line x1="395.8" y1="420.5" x2="498.5" y2="420.5" stroke="#1a1a1a" stroke-width="1.1"/><line x1="408.5" y1="420.4" x2="408.5" y2="423.4" stroke="#1a1a1a" stroke-width="0.9"/><line x1="434.5" y1="420.4" x2="434.5" y2="423.4" stroke="#1a1a1a" stroke-width="0.9"/><line x1="459.5" y1="420.4" x2="459.5" y2="423.4" stroke="#1a1a1a" stroke-width="0.9"/><line x1="484.5" y1="420.4" x2="484.5" y2="423.4" stroke="#1a1a1a" stroke-width="0.9"/><line x1="421.5" y1="420.4" x2="421.5" y2="422.2" stroke="#1a1a1a" stroke-width="0.8"/><line x1="446.5" y1="420.4" x2="446.5" y2="422.2" stroke="#1a1a1a" stroke-width="0.8"/><line x1="471.5" y1="420.4" x2="471.5" y2="422.2" stroke="#1a1a1a" stroke-width="0.8"/><line x1="496.5" y1="420.4" x2="496.5" y2="422.2" stroke="#1a1a1a" stroke-width="0.8"/><line x1="408.5" y1="355.1" x2="408.5" y2="362.8" stroke="#2a2a2a" stroke-width="0.9"/><line x1="407.2" y1="355.5" x2="410.2" y2="355.5" stroke="#2a2a2a" stroke-width="1.3"/><rect x="402.10" y="360.80" width="13.20" height="59.60" fill="#A6022B" stroke="#8A0020" stroke-width="0.5"/><line x1="434.5" y1="384.6" x2="434.5" y2="396.1" stroke="#2a2a2a" stroke-width="0.9"/><line x1="432.5" y1="384.5" x2="435.5" y2="384.5" stroke="#2a2a2a" stroke-width="1.3"/><rect x="427.40" y="394.10" width="13.20" height="26.30" fill="#A6022B" stroke="#8A0020" stroke-width="0.5"/><line x1="459.5" y1="403.1" x2="459.5" y2="409.0" stroke="#2a2a2a" stroke-width="0.9"/><line x1="457.8" y1="403.5" x2="460.8" y2="403.5" stroke="#2a2a2a" stroke-width="1.3"/><rect x="452.70" y="407.00" width="13.20" height="13.40" fill="#A6022B" stroke="#8A0020" stroke-width="0.5"/><line x1="484.5" y1="397.8" x2="484.5" y2="406.9" stroke="#2a2a2a" stroke-width="0.9"/><line x1="482.8" y1="397.5" x2="485.8" y2="397.5" stroke="#2a2a2a" stroke-width="1.3"/><rect x="477.70" y="404.90" width="13.20" height="15.50" fill="#A6022B" stroke="#8A0020" stroke-width="0.5"/><line x1="407.3" y1="340.5" x2="436.8" y2="340.5" stroke="#111" stroke-width="1.1"/><circle cx="420.10" cy="337.50" r="1.2" fill="#111"/><circle cx="424.00" cy="337.50" r="1.2" fill="#111"/><line x1="458.8" y1="385.5" x2="488.1" y2="385.5" stroke="#111" stroke-width="1.1"/><text x="411.7" y="430.59999999999997" font-size="7.8" text-anchor="end" fill="#111" stroke="#111" stroke-width="0.2" transform="rotate(-45 411.7 430.59999999999997)">ZT7 PBS</text><text x="437.0" y="430.59999999999997" font-size="7.8" text-anchor="end" fill="#111" stroke="#111" stroke-width="0.2" transform="rotate(-45 437.0 430.59999999999997)">ZT19 PBS</text><text x="462.3" y="430.59999999999997" font-size="7.8" text-anchor="end" fill="#111" stroke="#111" stroke-width="0.2" transform="rotate(-45 462.3 430.59999999999997)">ZT7 NAC</text><text x="487.3" y="430.59999999999997" font-size="7.8" text-anchor="end" fill="#111" stroke="#111" stroke-width="0.2" transform="rotate(-45 487.3 430.59999999999997)">ZT19 NAC</text><text x="0" y="0" font-size="9.24" text-anchor="middle" fill="#111" stroke="#111" stroke-width="0.2" transform="translate(372.0 383.2) rotate(-90) scale(0.9091 1)">hCXCR4 MFI</text><line x1="51.5" y1="496.6" x2="51.5" y2="584.4" stroke="#1a1a1a" stroke-width="1.1"/><line x1="48.300000000000004" y1="499.5" x2="51.1" y2="499.5" stroke="#1a1a1a" stroke-width="0.9"/><text x="0" y="0" font-size="9.96" text-anchor="end" fill="#111" stroke="#111" stroke-width="0.2" transform="translate(45.6 502.09999999999997) scale(0.8333 1)">4</text><line x1="48.300000000000004" y1="541.5" x2="51.1" y2="541.5" stroke="#1a1a1a" stroke-width="0.9"/><text x="0" y="0" font-size="9.96" text-anchor="end" fill="#111" stroke="#111" stroke-width="0.2" transform="translate(45.6 544.6999999999999) scale(0.8333 1)">2</text><line x1="48.300000000000004" y1="584.5" x2="51.1" y2="584.5" stroke="#1a1a1a" stroke-width="0.9"/><text x="0" y="0" font-size="9.96" text-anchor="end" fill="#111" stroke="#111" stroke-width="0.2" transform="translate(45.6 587.3) scale(0.8333 1)">0</text><line x1="49.300000000000004" y1="520.5" x2="51.1" y2="520.5" stroke="#1a1a1a" stroke-width="0.8"/><line x1="49.300000000000004" y1="563.5" x2="51.1" y2="563.5" stroke="#1a1a1a" stroke-width="0.8"/><line x1="51.1" y1="584.5" x2="166" y2="584.5" stroke="#1a1a1a" stroke-width="1.1"/><line x1="62.5" y1="584.4" x2="62.5" y2="587.4" stroke="#1a1a1a" stroke-width="0.9"/><line x1="84.5" y1="584.4" x2="84.5" y2="587.4" stroke="#1a1a1a" stroke-width="0.9"/><line x1="107.5" y1="584.4" x2="107.5" y2="587.4" stroke="#1a1a1a" stroke-width="0.9"/><line x1="129.5" y1="584.4" x2="129.5" y2="587.4" stroke="#1a1a1a" stroke-width="0.9"/><line x1="151.5" y1="584.4" x2="151.5" y2="587.4" stroke="#1a1a1a" stroke-width="0.9"/><line x1="73.5" y1="584.4" x2="73.5" y2="586.1999999999999" stroke="#1a1a1a" stroke-width="0.8"/><line x1="96.5" y1="584.4" x2="96.5" y2="586.1999999999999" stroke="#1a1a1a" stroke-width="0.8"/><line x1="118.5" y1="584.4" x2="118.5" y2="586.1999999999999" stroke="#1a1a1a" stroke-width="0.8"/><line x1="140.5" y1="584.4" x2="140.5" y2="586.1999999999999" stroke="#1a1a1a" stroke-width="0.8"/><line x1="162.5" y1="584.4" x2="162.5" y2="586.1999999999999" stroke="#1a1a1a" stroke-width="0.8"/><text x="0" y="0" font-size="9.12" text-anchor="middle" fill="#111" stroke="#111" stroke-width="0.2" transform="translate(62.6 598.0) scale(0.8333 1)">ZT1</text><text x="0" y="0" font-size="9.12" text-anchor="middle" fill="#111" stroke="#111" stroke-width="0.2" transform="translate(84.9 598.0) scale(0.8333 1)">ZT7</text><text x="0" y="0" font-size="9.12" text-anchor="middle" fill="#111" stroke="#111" stroke-width="0.2" transform="translate(107.1 598.0) scale(0.8333 1)">ZT13</text><text x="0" y="0" font-size="9.12" text-anchor="middle" fill="#111" stroke="#111" stroke-width="0.2" transform="translate(129.3 598.0) scale(0.8333 1)">ZT19</text><text x="0" y="0" font-size="9.12" text-anchor="middle" fill="#111" stroke="#111" stroke-width="0.2" transform="translate(151.4 598.0) scale(0.8333 1)">ZT25</text><rect x="60.00" y="602.90" width="91.50" height="6.10" fill="#000"/><rect x="61.35" y="604.25" width="43.15" height="3.60" fill="#fff"/><line x1="84.5" y1="514.5" x2="84.5" y2="565" stroke="#5a7a4c" stroke-width="0.95"/><line x1="83.60000000000001" y1="514.5" x2="86.2" y2="514.5" stroke="#5a7a4c" stroke-width="1.3"/><line x1="83.60000000000001" y1="565.5" x2="86.2" y2="565.5" stroke="#5a7a4c" stroke-width="1.3"/><line x1="107.5" y1="551" x2="107.5" y2="581.3" stroke="#5a7a4c" stroke-width="0.95"/><line x1="105.8" y1="551.5" x2="108.39999999999999" y2="551.5" stroke="#5a7a4c" stroke-width="1.3"/><line x1="105.8" y1="581.5" x2="108.39999999999999" y2="581.5" stroke="#5a7a4c" stroke-width="1.3"/><line x1="129.5" y1="572.5" x2="129.5" y2="581.3" stroke="#5a7a4c" stroke-width="0.95"/><line x1="128.0" y1="572.5" x2="130.60000000000002" y2="572.5" stroke="#5a7a4c" stroke-width="1.3"/><line x1="128.0" y1="581.5" x2="130.60000000000002" y2="581.5" stroke="#5a7a4c" stroke-width="1.3"/><line x1="151.5" y1="542" x2="151.5" y2="565" stroke="#5a7a4c" stroke-width="0.95"/><line x1="150.1" y1="542.5" x2="152.70000000000002" y2="542.5" stroke="#5a7a4c" stroke-width="1.3"/><line x1="150.1" y1="565.5" x2="152.70000000000002" y2="565.5" stroke="#5a7a4c" stroke-width="1.3"/><polyline points="62.6,563.2 84.9,533.8 107.1,566.2 129.3,577.0 151.4,553.8" fill="none" stroke="#4F8C3A" stroke-width="1.55" stroke-linejoin="miter"/><circle cx="62.6" cy="563.2" r="2.0" fill="#4F8C3A"/><circle cx="84.9" cy="533.8" r="2.0" fill="#4F8C3A"/><circle cx="107.1" cy="566.2" r="2.0" fill="#4F8C3A"/><circle cx="129.3" cy="577.0" r="2.0" fill="#4F8C3A"/><circle cx="151.4" cy="553.8" r="2.0" fill="#4F8C3A"/><line x1="84.5" y1="533" x2="84.5" y2="565.5" stroke="#6a1428" stroke-width="0.95"/><line x1="83.60000000000001" y1="533.5" x2="86.2" y2="533.5" stroke="#6a1428" stroke-width="1.3"/><line x1="83.60000000000001" y1="565.5" x2="86.2" y2="565.5" stroke="#6a1428" stroke-width="1.3"/><line x1="107.5" y1="543.3" x2="107.5" y2="567.5" stroke="#6a1428" stroke-width="0.95"/><line x1="105.8" y1="543.5" x2="108.39999999999999" y2="543.5" stroke="#6a1428" stroke-width="1.3"/><line x1="105.8" y1="567.5" x2="108.39999999999999" y2="567.5" stroke="#6a1428" stroke-width="1.3"/><line x1="129.5" y1="536.5" x2="129.5" y2="567.5" stroke="#6a1428" stroke-width="0.95"/><line x1="128.0" y1="536.5" x2="130.60000000000002" y2="536.5" stroke="#6a1428" stroke-width="1.3"/><line x1="128.0" y1="567.5" x2="130.60000000000002" y2="567.5" stroke="#6a1428" stroke-width="1.3"/><line x1="151.5" y1="558" x2="151.5" y2="577.5" stroke="#6a1428" stroke-width="0.95"/><line x1="150.1" y1="558.5" x2="152.70000000000002" y2="558.5" stroke="#6a1428" stroke-width="1.3"/><line x1="150.1" y1="577.5" x2="152.70000000000002" y2="577.5" stroke="#6a1428" stroke-width="1.3"/><polyline points="62.6,563.2 84.9,550.4 107.1,555.8 129.3,551.8 151.4,567.5" fill="none" stroke="#860C29" stroke-width="1.55" stroke-linejoin="miter"/><circle cx="62.6" cy="563.2" r="2.0" fill="#860C29"/><circle cx="84.9" cy="550.4" r="2.0" fill="#860C29"/><circle cx="107.1" cy="555.8" r="2.0" fill="#860C29"/><circle cx="129.3" cy="551.8" r="2.0" fill="#860C29"/><circle cx="151.4" cy="567.5" r="2.0" fill="#860C29"/><text x="104.2" y="483.9" font-size="7.7" text-anchor="middle" fill="#111" stroke="#111" stroke-width="0.2">NSG mCD45<tspan font-size="5.5" dy="-3">+</tspan></text><line x1="80.8" y1="485.5" x2="127.3" y2="485.5" stroke="#111" stroke-width="0.9"/><line x1="91.0" y1="498.5" x2="106.6" y2="498.5" stroke="#4F8C3A" stroke-width="1.5"/><circle cx="98.8" cy="498.3" r="1.8" fill="#4F8C3A"/><text x="110.0" y="501.2" font-size="8.0" text-anchor="start" fill="#111" stroke="#111" stroke-width="0.2">PBS</text><line x1="91.0" y1="507.5" x2="106.6" y2="507.5" stroke="#860C29" stroke-width="1.5"/><circle cx="98.8" cy="507.0" r="1.8" fill="#860C29"/><text x="110.0" y="509.9" font-size="8.0" text-anchor="start" fill="#111" stroke="#111" stroke-width="0.2">NAC</text><circle cx="85.00" cy="506.30" r="1.2" fill="#111"/><text x="0" y="0" font-size="9.24" text-anchor="middle" fill="#111" stroke="#111" stroke-width="0.2" transform="translate(35.099999999999994 540.3) rotate(-90) scale(0.9091 1)">Fold changes</text><line x1="223.5" y1="504.5" x2="223.5" y2="584.3" stroke="#1a1a1a" stroke-width="1.1"/><line x1="220.5" y1="509.5" x2="223.3" y2="509.5" stroke="#1a1a1a" stroke-width="0.9"/><text x="0" y="0" font-size="9.96" text-anchor="end" fill="#111" stroke="#111" stroke-width="0.2" transform="translate(217.8 512.5) scale(0.8333 1)">4</text><line x1="220.5" y1="547.5" x2="223.3" y2="547.5" stroke="#1a1a1a" stroke-width="0.9"/><text x="0" y="0" font-size="9.96" text-anchor="end" fill="#111" stroke="#111" stroke-width="0.2" transform="translate(217.8 549.9) scale(0.8333 1)">2</text><line x1="220.5" y1="584.5" x2="223.3" y2="584.5" stroke="#1a1a1a" stroke-width="0.9"/><text x="0" y="0" font-size="9.96" text-anchor="end" fill="#111" stroke="#111" stroke-width="0.2" transform="translate(217.8 587.1999999999999) scale(0.8333 1)">0</text><line x1="221.5" y1="528.5" x2="223.3" y2="528.5" stroke="#1a1a1a" stroke-width="0.8"/><line x1="221.5" y1="565.5" x2="223.3" y2="565.5" stroke="#1a1a1a" stroke-width="0.8"/><line x1="223.3" y1="584.5" x2="330" y2="584.5" stroke="#1a1a1a" stroke-width="1.1"/><line x1="233.5" y1="584.3" x2="233.5" y2="587.3" stroke="#1a1a1a" stroke-width="0.9"/><line x1="254.5" y1="584.3" x2="254.5" y2="587.3" stroke="#1a1a1a" stroke-width="0.9"/><line x1="275.5" y1="584.3" x2="275.5" y2="587.3" stroke="#1a1a1a" stroke-width="0.9"/><line x1="296.5" y1="584.3" x2="296.5" y2="587.3" stroke="#1a1a1a" stroke-width="0.9"/><line x1="317.5" y1="584.3" x2="317.5" y2="587.3" stroke="#1a1a1a" stroke-width="0.9"/><line x1="243.5" y1="584.3" x2="243.5" y2="586.0999999999999" stroke="#1a1a1a" stroke-width="0.8"/><line x1="265.5" y1="584.3" x2="265.5" y2="586.0999999999999" stroke="#1a1a1a" stroke-width="0.8"/><line x1="286.5" y1="584.3" x2="286.5" y2="586.0999999999999" stroke="#1a1a1a" stroke-width="0.8"/><line x1="306.5" y1="584.3" x2="306.5" y2="586.0999999999999" stroke="#1a1a1a" stroke-width="0.8"/><line x1="328.5" y1="584.3" x2="328.5" y2="586.0999999999999" stroke="#1a1a1a" stroke-width="0.8"/><text x="0" y="0" font-size="9.12" text-anchor="middle" fill="#111" stroke="#111" stroke-width="0.2" transform="translate(233.3 597.9) scale(0.8333 1)">ZT1</text><text x="0" y="0" font-size="9.12" text-anchor="middle" fill="#111" stroke="#111" stroke-width="0.2" transform="translate(254.5 597.9) scale(0.8333 1)">ZT7</text><text x="0" y="0" font-size="9.12" text-anchor="middle" fill="#111" stroke="#111" stroke-width="0.2" transform="translate(275.5 597.9) scale(0.8333 1)">ZT13</text><text x="0" y="0" font-size="9.12" text-anchor="middle" fill="#111" stroke="#111" stroke-width="0.2" transform="translate(296.3 597.9) scale(0.8333 1)">ZT19</text><text x="0" y="0" font-size="9.12" text-anchor="middle" fill="#111" stroke="#111" stroke-width="0.2" transform="translate(317.5 597.9) scale(0.8333 1)">ZT25</text><rect x="231.10" y="603.20" width="91.90" height="5.90" fill="#000"/><rect x="232.45" y="604.55" width="43.35" height="3.40" fill="#fff"/><line x1="254.5" y1="511.5" x2="254.5" y2="547" stroke="#5a7a4c" stroke-width="0.95"/><line x1="253.2" y1="511.5" x2="255.8" y2="511.5" stroke="#5a7a4c" stroke-width="1.3"/><line x1="253.2" y1="547.5" x2="255.8" y2="547.5" stroke="#5a7a4c" stroke-width="1.3"/><line x1="275.5" y1="528.8" x2="275.5" y2="569.5" stroke="#5a7a4c" stroke-width="0.95"/><line x1="274.2" y1="528.5" x2="276.8" y2="528.5" stroke="#5a7a4c" stroke-width="1.3"/><line x1="274.2" y1="569.5" x2="276.8" y2="569.5" stroke="#5a7a4c" stroke-width="1.3"/><line x1="296.5" y1="568.8" x2="296.5" y2="579.5" stroke="#5a7a4c" stroke-width="0.95"/><line x1="295.0" y1="568.5" x2="297.6" y2="568.5" stroke="#5a7a4c" stroke-width="1.3"/><line x1="295.0" y1="579.5" x2="297.6" y2="579.5" stroke="#5a7a4c" stroke-width="1.3"/><line x1="317.5" y1="556.3" x2="317.5" y2="569" stroke="#5a7a4c" stroke-width="0.95"/><line x1="316.2" y1="556.5" x2="318.8" y2="556.5" stroke="#5a7a4c" stroke-width="1.3"/><line x1="316.2" y1="569.5" x2="318.8" y2="569.5" stroke="#5a7a4c" stroke-width="1.3"/><polyline points="233.3,565.5 254.5,529.5 275.5,549.5 296.3,573.8 317.5,563.0" fill="none" stroke="#4F8C3A" stroke-width="1.55" stroke-linejoin="miter"/><circle cx="233.3" cy="565.5" r="2.0" fill="#4F8C3A"/><circle cx="254.5" cy="529.5" r="2.0" fill="#4F8C3A"/><circle cx="275.5" cy="549.5" r="2.0" fill="#4F8C3A"/><circle cx="296.3" cy="573.8" r="2.0" fill="#4F8C3A"/><circle cx="317.5" cy="563.0" r="2.0" fill="#4F8C3A"/><line x1="254.5" y1="562.5" x2="254.5" y2="573.3" stroke="#6a1428" stroke-width="0.95"/><line x1="253.2" y1="562.5" x2="255.8" y2="562.5" stroke="#6a1428" stroke-width="1.3"/><line x1="253.2" y1="573.5" x2="255.8" y2="573.5" stroke="#6a1428" stroke-width="1.3"/><line x1="275.5" y1="545.5" x2="275.5" y2="569.5" stroke="#6a1428" stroke-width="0.95"/><line x1="274.2" y1="545.5" x2="276.8" y2="545.5" stroke="#6a1428" stroke-width="1.3"/><line x1="274.2" y1="569.5" x2="276.8" y2="569.5" stroke="#6a1428" stroke-width="1.3"/><line x1="296.5" y1="552" x2="296.5" y2="572.5" stroke="#6a1428" stroke-width="0.95"/><line x1="295.0" y1="552.5" x2="297.6" y2="552.5" stroke="#6a1428" stroke-width="1.3"/><line x1="295.0" y1="572.5" x2="297.6" y2="572.5" stroke="#6a1428" stroke-width="1.3"/><line x1="317.5" y1="563" x2="317.5" y2="577.5" stroke="#6a1428" stroke-width="0.95"/><line x1="316.2" y1="563.5" x2="318.8" y2="563.5" stroke="#6a1428" stroke-width="1.3"/><line x1="316.2" y1="577.5" x2="318.8" y2="577.5" stroke="#6a1428" stroke-width="1.3"/><polyline points="233.3,565.5 254.5,567.5 275.5,557.0 296.3,562.0 317.5,570.0" fill="none" stroke="#860C29" stroke-width="1.55" stroke-linejoin="miter"/><circle cx="233.3" cy="565.5" r="2.0" fill="#860C29"/><circle cx="254.5" cy="567.5" r="2.0" fill="#860C29"/><circle cx="275.5" cy="557.0" r="2.0" fill="#860C29"/><circle cx="296.3" cy="562.0" r="2.0" fill="#860C29"/><circle cx="317.5" cy="570.0" r="2.0" fill="#860C29"/><text x="270.6" y="484.2" font-size="7.7" text-anchor="middle" fill="#111" stroke="#111" stroke-width="0.2">Humice mCD45<tspan font-size="5.5" dy="-3">+</tspan></text><line x1="241.3" y1="486.5" x2="300" y2="486.5" stroke="#111" stroke-width="0.9"/><line x1="268.7" y1="508.5" x2="284.2" y2="508.5" stroke="#4F8C3A" stroke-width="1.5"/><circle cx="276.45" cy="508.3" r="1.8" fill="#4F8C3A"/><text x="287.59999999999997" y="511.2" font-size="8.0" text-anchor="start" fill="#111" stroke="#111" stroke-width="0.2">PBS</text><line x1="268.7" y1="517.5" x2="284.2" y2="517.5" stroke="#860C29" stroke-width="1.5"/><circle cx="276.45" cy="517.0" r="1.8" fill="#860C29"/><text x="287.59999999999997" y="519.9" font-size="8.0" text-anchor="start" fill="#111" stroke="#111" stroke-width="0.2">NAC</text><circle cx="250.80" cy="502.50" r="1.2" fill="#111"/><text x="0" y="0" font-size="9.24" text-anchor="middle" fill="#111" stroke="#111" stroke-width="0.2" transform="translate(207.20000000000002 544.5) rotate(-90) scale(0.9091 1)">Fold changes</text><line x1="396.5" y1="502.0" x2="396.5" y2="584.3" stroke="#1a1a1a" stroke-width="1.1"/><line x1="393.8" y1="504.5" x2="396.6" y2="504.5" stroke="#1a1a1a" stroke-width="0.9"/><text x="0" y="0" font-size="9.96" text-anchor="end" fill="#111" stroke="#111" stroke-width="0.2" transform="translate(391.1 507.7) scale(0.8333 1)">3</text><line x1="393.8" y1="531.5" x2="396.6" y2="531.5" stroke="#1a1a1a" stroke-width="0.9"/><text x="0" y="0" font-size="9.96" text-anchor="end" fill="#111" stroke="#111" stroke-width="0.2" transform="translate(391.1 534.1999999999999) scale(0.8333 1)">2</text><line x1="393.8" y1="557.5" x2="396.6" y2="557.5" stroke="#1a1a1a" stroke-width="0.9"/><text x="0" y="0" font-size="9.96" text-anchor="end" fill="#111" stroke="#111" stroke-width="0.2" transform="translate(391.1 560.6) scale(0.8333 1)">1</text><line x1="393.8" y1="584.5" x2="396.6" y2="584.5" stroke="#1a1a1a" stroke-width="0.9"/><text x="0" y="0" font-size="9.96" text-anchor="end" fill="#111" stroke="#111" stroke-width="0.2" transform="translate(391.1 587.1999999999999) scale(0.8333 1)">0</text><line x1="394.8" y1="518.5" x2="396.6" y2="518.5" stroke="#1a1a1a" stroke-width="0.8"/><line x1="394.8" y1="544.5" x2="396.6" y2="544.5" stroke="#1a1a1a" stroke-width="0.8"/><line x1="394.8" y1="571.5" x2="396.6" y2="571.5" stroke="#1a1a1a" stroke-width="0.8"/><line x1="396.6" y1="584.5" x2="503" y2="584.5" stroke="#1a1a1a" stroke-width="1.1"/><line x1="406.5" y1="584.3" x2="406.5" y2="587.3" stroke="#1a1a1a" stroke-width="0.9"/><line x1="427.5" y1="584.3" x2="427.5" y2="587.3" stroke="#1a1a1a" stroke-width="0.9"/><line x1="448.5" y1="584.3" x2="448.5" y2="587.3" stroke="#1a1a1a" stroke-width="0.9"/><line x1="469.5" y1="584.3" x2="469.5" y2="587.3" stroke="#1a1a1a" stroke-width="0.9"/><line x1="490.5" y1="584.3" x2="490.5" y2="587.3" stroke="#1a1a1a" stroke-width="0.9"/><line x1="417.5" y1="584.3" x2="417.5" y2="586.0999999999999" stroke="#1a1a1a" stroke-width="0.8"/><line x1="437.5" y1="584.3" x2="437.5" y2="586.0999999999999" stroke="#1a1a1a" stroke-width="0.8"/><line x1="458.5" y1="584.3" x2="458.5" y2="586.0999999999999" stroke="#1a1a1a" stroke-width="0.8"/><line x1="479.5" y1="584.3" x2="479.5" y2="586.0999999999999" stroke="#1a1a1a" stroke-width="0.8"/><line x1="500.5" y1="584.3" x2="500.5" y2="586.0999999999999" stroke="#1a1a1a" stroke-width="0.8"/><text x="0" y="0" font-size="9.12" text-anchor="middle" fill="#111" stroke="#111" stroke-width="0.2" transform="translate(406.8 597.9) scale(0.8333 1)">ZT1</text><text x="0" y="0" font-size="9.12" text-anchor="middle" fill="#111" stroke="#111" stroke-width="0.2" transform="translate(427.5 597.9) scale(0.8333 1)">ZT7</text><text x="0" y="0" font-size="9.12" text-anchor="middle" fill="#111" stroke="#111" stroke-width="0.2" transform="translate(448.3 597.9) scale(0.8333 1)">ZT13</text><text x="0" y="0" font-size="9.12" text-anchor="middle" fill="#111" stroke="#111" stroke-width="0.2" transform="translate(469.3 597.9) scale(0.8333 1)">ZT19</text><text x="0" y="0" font-size="9.12" text-anchor="middle" fill="#111" stroke="#111" stroke-width="0.2" transform="translate(490.0 597.9) scale(0.8333 1)">ZT25</text><rect x="401.20" y="603.20" width="91.40" height="5.90" fill="#000"/><rect x="402.55" y="604.55" width="42.95" height="3.40" fill="#fff"/><line x1="427.5" y1="535.8" x2="427.5" y2="547.5" stroke="#5a7a4c" stroke-width="0.95"/><line x1="426.2" y1="535.5" x2="428.8" y2="535.5" stroke="#5a7a4c" stroke-width="1.3"/><line x1="426.2" y1="547.5" x2="428.8" y2="547.5" stroke="#5a7a4c" stroke-width="1.3"/><line x1="448.5" y1="525" x2="448.5" y2="543.3" stroke="#5a7a4c" stroke-width="0.95"/><line x1="447.0" y1="525.5" x2="449.6" y2="525.5" stroke="#5a7a4c" stroke-width="1.3"/><line x1="447.0" y1="543.5" x2="449.6" y2="543.5" stroke="#5a7a4c" stroke-width="1.3"/><line x1="469.5" y1="513.3" x2="469.5" y2="538" stroke="#5a7a4c" stroke-width="0.95"/><line x1="468.0" y1="513.5" x2="470.6" y2="513.5" stroke="#5a7a4c" stroke-width="1.3"/><line x1="468.0" y1="538.5" x2="470.6" y2="538.5" stroke="#5a7a4c" stroke-width="1.3"/><line x1="490.5" y1="552.5" x2="490.5" y2="563" stroke="#5a7a4c" stroke-width="0.95"/><line x1="488.7" y1="552.5" x2="491.3" y2="552.5" stroke="#5a7a4c" stroke-width="1.3"/><line x1="488.7" y1="563.5" x2="491.3" y2="563.5" stroke="#5a7a4c" stroke-width="1.3"/><polyline points="406.8,557.6 427.5,542.0 448.3,534.4 469.3,525.6 490.0,558.3" fill="none" stroke="#4F8C3A" stroke-width="1.55" stroke-linejoin="miter"/><circle cx="406.8" cy="557.6" r="2.0" fill="#4F8C3A"/><circle cx="427.5" cy="542.0" r="2.0" fill="#4F8C3A"/><circle cx="448.3" cy="534.4" r="2.0" fill="#4F8C3A"/><circle cx="469.3" cy="525.6" r="2.0" fill="#4F8C3A"/><circle cx="490.0" cy="558.3" r="2.0" fill="#4F8C3A"/><line x1="427.5" y1="561.3" x2="427.5" y2="571.3" stroke="#6a1428" stroke-width="0.95"/><line x1="426.2" y1="561.5" x2="428.8" y2="561.5" stroke="#6a1428" stroke-width="1.3"/><line x1="426.2" y1="571.5" x2="428.8" y2="571.5" stroke="#6a1428" stroke-width="1.3"/><line x1="448.5" y1="558.8" x2="448.5" y2="579.3" stroke="#6a1428" stroke-width="0.95"/><line x1="447.0" y1="558.5" x2="449.6" y2="558.5" stroke="#6a1428" stroke-width="1.3"/><line x1="447.0" y1="579.5" x2="449.6" y2="579.5" stroke="#6a1428" stroke-width="1.3"/><line x1="469.5" y1="533.8" x2="469.5" y2="569.5" stroke="#6a1428" stroke-width="0.95"/><line x1="468.0" y1="533.5" x2="470.6" y2="533.5" stroke="#6a1428" stroke-width="1.3"/><line x1="468.0" y1="569.5" x2="470.6" y2="569.5" stroke="#6a1428" stroke-width="1.3"/><line x1="490.5" y1="566.3" x2="490.5" y2="580.8" stroke="#6a1428" stroke-width="0.95"/><line x1="488.7" y1="566.5" x2="491.3" y2="566.5" stroke="#6a1428" stroke-width="1.3"/><line x1="488.7" y1="580.5" x2="491.3" y2="580.5" stroke="#6a1428" stroke-width="1.3"/><polyline points="406.8,557.6 427.5,566.3 448.3,568.8 469.3,551.3 490.0,573.3" fill="none" stroke="#860C29" stroke-width="1.55" stroke-linejoin="miter"/><circle cx="406.8" cy="557.6" r="2.0" fill="#860C29"/><circle cx="427.5" cy="566.3" r="2.0" fill="#860C29"/><circle cx="448.3" cy="568.8" r="2.0" fill="#860C29"/><circle cx="469.3" cy="551.3" r="2.0" fill="#860C29"/><circle cx="490.0" cy="573.3" r="2.0" fill="#860C29"/><text x="437.3" y="483.6" font-size="7.7" text-anchor="middle" fill="#111" stroke="#111" stroke-width="0.2">Humice hCD45<tspan font-size="5.5" dy="-3">+</tspan></text><line x1="409.5" y1="485.5" x2="465" y2="485.5" stroke="#111" stroke-width="0.9"/><line x1="402.2" y1="499.5" x2="418.1" y2="499.5" stroke="#4F8C3A" stroke-width="1.5"/><circle cx="410.15" cy="499.0" r="1.8" fill="#4F8C3A"/><text x="421.5" y="501.9" font-size="8.0" text-anchor="start" fill="#111" stroke="#111" stroke-width="0.2">PBS</text><line x1="402.2" y1="507.5" x2="418.1" y2="507.5" stroke="#860C29" stroke-width="1.5"/><circle cx="410.15" cy="507.6" r="1.8" fill="#860C29"/><text x="421.5" y="510.5" font-size="8.0" text-anchor="start" fill="#111" stroke="#111" stroke-width="0.2">NAC</text><circle cx="466.80" cy="501.30" r="1.2" fill="#111"/><text x="0" y="0" font-size="9.24" text-anchor="middle" fill="#111" stroke="#111" stroke-width="0.2" transform="translate(379.3 543.2) rotate(-90) scale(0.9091 1)">Fold changes</text><rect x="0.00" y="0.00" width="520.00" height="1.30" fill="#000"/><rect x="0.00" y="0.00" width="1.20" height="616.00" fill="#000"/><rect x="518.50" y="0.00" width="1.50" height="616.00" fill="#000"/><rect x="0.00" y="614.40" width="520.00" height="1.60" fill="#000"/></svg>
</div></body></html>
